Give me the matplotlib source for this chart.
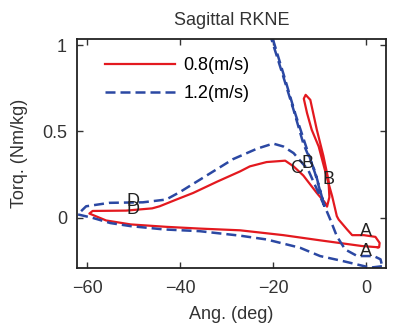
import matplotlib
matplotlib.use("Agg")
import matplotlib.pyplot as plt

plt.rcParams['font.family'] = ['Liberation Sans', 'DejaVu Sans']

# 0.8 m/s loop (angle deg, torque Nm/kg)
red_ang = [2.5, -0.9, -9.9, -17.8, -27.1, -35.8, -42.9, -50.6, -55.9, -59.5,
           -58.8, -51.6, -46.0, -44.4, -40.8, -37.2, -32.0, -27.1, -25.0, -21.4,
           -17.4, -15.6, -13.5, -10.6, -8.8, -8.4, -7.9, -8.1, -9.2, -10.6,
           -12.0, -13.0, -13.4, -12.7, -11.7, -10.2, -8.7, -7.3, -6.3, -5.9,
           -4.1, -3.0, -0.5, 2.0, 2.9, 2.8, 2.5]
red_trq = [-0.17, -0.163, -0.13, -0.10, -0.072, -0.062, -0.052, -0.038, -0.015, 0.025,
           0.040, 0.042, 0.055, 0.067, 0.106, 0.144, 0.21, 0.269, 0.298, 0.323,
           0.331, 0.298, 0.245, 0.144, 0.087, 0.065, 0.12, 0.22, 0.36, 0.51,
           0.683, 0.712, 0.69, 0.606, 0.51, 0.413, 0.26, 0.125, 0.01, -0.01,
           -0.067, -0.10, -0.10, -0.11, -0.145, -0.17, -0.17]

# 1.2 m/s loop
blue_ang = [3.4, 0.9, -5.0, -9.9, -14.2, -21.4, -27.1, -35.8, -43.4, -50.6,
            -55.0, -58.8, -62.0, -60.2, -55.2, -48.0, -43.0, -40.0, -35.8, -28.6,
            -23.5, -20.0, -17.8, -15.6, -13.5, -12.5, -9.0, -11.0, -13.5, -15.6,
            -17.8, -20.3, -21.5, -20.0, -17.4, -15.2, -13.0, -11.0, -9.4, -8.8,
            -7.7, -6.3, -4.5, -1.9, 1.65, 3.1, 3.45, 3.4]
blue_trq = [-0.28, -0.288, -0.25, -0.221, -0.173, -0.125, -0.103, -0.077, -0.067, -0.048,
            -0.03, 0.0, 0.02, 0.067, 0.087, 0.09, 0.106, 0.15, 0.22, 0.34,
            0.40, 0.43, 0.413, 0.375, 0.31, 0.28, 0.07, 0.27, 0.43, 0.625,
            0.817, 1.03, 1.15, 1.03, 0.80, 0.60, 0.42, 0.26, 0.11, 0.06,
            -0.01, -0.106, -0.183, -0.221, -0.221, -0.24, -0.279, -0.28]

# gait event labels
ev_text = ['A', 'A', 'B', 'C', 'B', 'D', 'D']
ev_ang = [0.0, 0.0, -8.1, -15.0, -12.7, -50.1, -50.1]
ev_trq = [-0.077, -0.192, 0.221, 0.288, 0.317, 0.096, 0.048]

fig = plt.figure(figsize=(3.94, 3.28), dpi=100)
ax = fig.add_axes([0.195, 0.183, 0.785, 0.698])

ax.plot(red_ang, red_trq, color='#e3191f', lw=1.6, label='0.8(m/s)')
ax.plot(blue_ang, blue_trq, color='#2b48a3', lw=1.8, dashes=(4, 2), label='1.2(m/s)')

for t, a, q in zip(ev_text, ev_ang, ev_trq):
    ax.text(a, q, t, fontsize=13, ha='center', va='center', color='#222222')

ax.set_xlim(-62.2, 4.3)
ax.set_ylim(-0.29, 1.035)
ax.set_xticks([-60, -40, -20, 0])
ax.set_yticks([0, 0.5, 1])
ax.set_yticklabels(['0', '0.5', '1'])
ax.tick_params(direction='in', top=True, right=True, labelsize=13, length=4,
               width=1, colors='#333333')
ax.tick_params(axis='x', pad=9)
ax.tick_params(axis='y', pad=7)
for s in ax.spines.values():
    s.set_linewidth(1.3)
    s.set_color('#222222')

ax.set_title('Sagittal RKNE', fontsize=13, pad=10, color='#333333')
ax.set_xlabel('Ang. (deg)', fontsize=13, labelpad=6, color='#333333')
ax.set_ylabel('Torq. (Nm/kg)', fontsize=13, labelpad=10, color='#333333')

ax.legend(loc='upper left', frameon=False, fontsize=13, handlelength=3.9,
          handletextpad=0.45, borderaxespad=0.3, bbox_to_anchor=(0.05, 0.975),
          labelspacing=0.6)

fig.savefig('out.png', dpi=100)
